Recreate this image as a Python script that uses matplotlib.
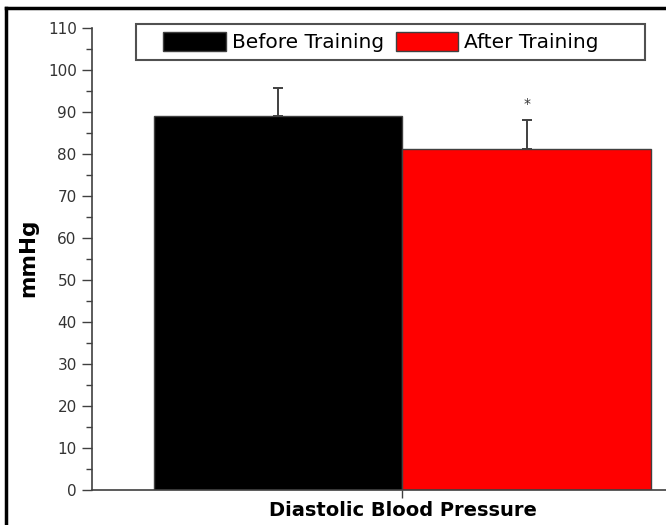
import matplotlib
matplotlib.use("Agg")
import matplotlib.pyplot as plt
from matplotlib.lines import Line2D
from matplotlib.patches import Rectangle

plt.rcParams['font.family'] = ['DejaVu Sans']

category = "Diastolic Blood Pressure"
groups = ["Before Training", "After Training"]
means = [89.0, 81.2]
errors = [6.8, 6.9]
colors = ["#000000", "#ff0000"]
y_ticks = list(range(0, 111, 10))

fig = plt.figure(figsize=(6.66, 5.25), dpi=100)
ax = fig.add_axes([92 / 666, 1 - 490 / 525, 574 / 666, 462 / 525])

grey = "#404040"
offsets = [-0.5, 0.0]
for off, m, e, c, g in zip(offsets, means, errors, colors, groups):
	ax.bar(off, m, width=0.5, align='edge', color=c, edgecolor=grey, linewidth=1, label=g, zorder=2)
	ax.errorbar(off + 0.25, m, yerr=[[0], [e]], fmt='none', ecolor=grey, elinewidth=1.4, capsize=3.3, capthick=1.4, zorder=3)

# significance mark above the after-training bar
ax.text(0.25, means[1] + errors[1] + 2.2, "*", ha='center', va='bottom', fontsize=10, color="#333333")

ax.set_xlim(-0.6245, 0.53)
ax.set_ylim(0, 110)
ax.set_xticks([0])
ax.set_xticklabels([""])
ax.set_yticks(y_ticks)
ax.set_yticks(range(5, 110, 10), minor=True)
ax.tick_params(axis='y', which='major', direction='out', length=7, width=1, colors=grey, labelsize=11, labelcolor="#333333", pad=4)
ax.tick_params(axis='y', which='minor', direction='out', length=4, width=1, colors=grey)
ax.tick_params(axis='x', direction='out', length=6, width=1, colors=grey)
for s in ['top', 'right']:
	ax.spines[s].set_visible(False)
for s in ['left', 'bottom']:
	ax.spines[s].set_color(grey)
	ax.spines[s].set_linewidth(1.2)

ax.set_ylabel("mmHg", fontsize=15.5, fontweight='bold', va='center')
ax.yaxis.set_label_coords((28 - 92) / 574, 0.503)
ax.set_xlabel(category, fontsize=14, fontweight='bold', va='center')
ax.xaxis.set_label_coords((403 - 92) / 574, (490 - 511) / 462)

leg = ax.legend(loc='center', bbox_to_anchor=((381 - 92) / 574, (490 - 42) / 462), ncol=2, fontsize=14.5,
	handlelength=3.1, handleheight=1.05, handletextpad=0.3, columnspacing=0.6, borderpad=0.2,
	frameon=False)
# legend box, wider on the right as in the original
ax.add_patch(Rectangle(((136 - 92) / 574, (490 - 60) / 462), 509 / 574, 36 / 462, transform=ax.transAxes,
	fill=False, edgecolor="#505050", linewidth=1.5, clip_on=False, zorder=5))

# outer frame of the picture
fig.add_artist(Line2D([6 / 666, 6 / 666], [0, 1 - 8 / 525], transform=fig.transFigure, color='black', linewidth=2.5))
fig.add_artist(Line2D([6 / 666, 1], [1 - 8 / 525, 1 - 8 / 525], transform=fig.transFigure, color='black', linewidth=2.5))

fig.savefig("out.png", dpi=100)
